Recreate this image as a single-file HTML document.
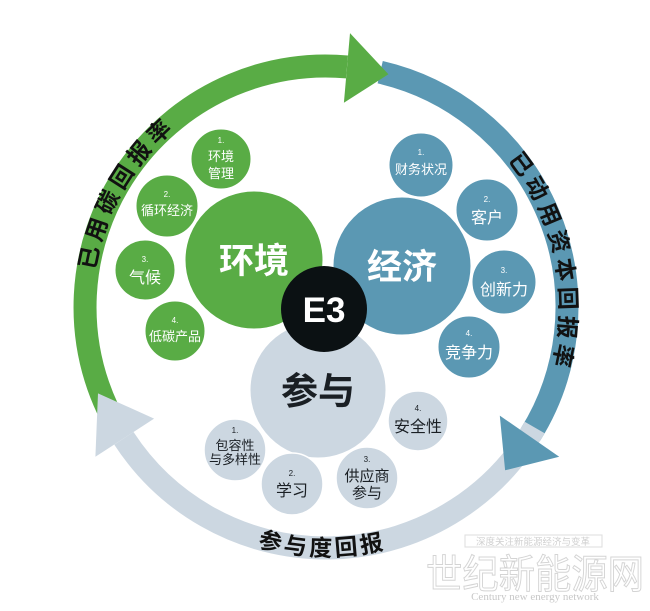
<!DOCTYPE html>
<html><head><meta charset="utf-8"><style>
html,body{margin:0;padding:0;background:#fff;width:650px;height:611px;overflow:hidden}
svg{display:block;font-family:"Liberation Sans","Noto Sans CJK SC",sans-serif}
</style></head><body>
<svg width="650" height="611" viewBox="0 0 650 611" xmlns="http://www.w3.org/2000/svg">
<defs>
<path id="pg" d="M94.9,270.4 A234,234 0 0 1 227.1,94.9"/>
<path id="pb" d="M507.8,159.7 A234,234 0 0 1 545.9,387.0"/>
<path id="pc" d="M257.4,546.4 A249,249 0 0 0 411.2,541.0"/>
</defs>
<path d="M380.2,72.2 A241,241 0 0 1 530.4,434.7" fill="none" stroke="#5b98b3" stroke-width="23"/>
<path d="M107.6,408.8 A241,241 0 0 1 347.0,66.9" fill="none" stroke="#59ac45" stroke-width="23"/>
<polygon points="343.9,102.8 350.0,33.1 388.4,74.2" fill="#59ac45"/>
<path d="M534.7,427.5 A241,241 0 0 1 123.9,438.3" fill="none" stroke="#ccd7e1" stroke-width="23"/>
<polygon points="154.1,418.6 95.4,456.8 98.0,393.4" fill="#ccd7e1"/>
<polygon points="499.8,415.6 559.2,456.7 505.1,470.3" fill="#5b98b3"/>

<g font-weight="bold" font-size="23" fill="#111">
<text><textPath href="#pg" textLength="164" lengthAdjust="spacing">已用碳回报率</textPath></text>
<text><textPath href="#pb" textLength="218" lengthAdjust="spacing">已动用资本回报率</textPath></text>
<text><textPath href="#pc" textLength="128" lengthAdjust="spacing">参与度回报</textPath></text>
</g>

<g fill="#59ac45" stroke="#fff" stroke-width="1">
<circle cx="221" cy="159" r="30"/><circle cx="167" cy="206" r="31"/>
<circle cx="145" cy="270" r="30"/><circle cx="175" cy="331" r="30"/>
</g>
<g fill="#5b98b3" stroke="#fff" stroke-width="1">
<circle cx="421" cy="165" r="32"/><circle cx="487" cy="210" r="31"/>
<circle cx="504" cy="282" r="32"/><circle cx="469" cy="347" r="31"/>
</g>
<circle cx="254" cy="260" r="69" fill="#59ac45" stroke="#fff"/>
<circle cx="402" cy="266" r="69" fill="#5b98b3" stroke="#fff"/>
<circle cx="318" cy="390" r="68" fill="#ccd7e1" stroke="#fff"/>
<g fill="#ccd7e1" stroke="#fff" stroke-width="1.5">
<circle cx="418" cy="421" r="30"/><circle cx="235" cy="450" r="31"/>
<circle cx="292" cy="484" r="31"/><circle cx="367" cy="478" r="31"/>
</g>
<circle cx="324" cy="309" r="43" fill="#0b1113"/>

<g text-anchor="middle">
<text x="254" y="273" font-size="35" font-weight="bold" fill="#fff">环境</text>
<text x="402" y="279" font-size="35" font-weight="bold" fill="#fff">经济</text>
<text x="318" y="404" font-size="37" font-weight="bold" fill="#1a1f24">参与</text>
<text x="324" y="322" font-size="35" font-weight="bold" fill="#fff">E3</text>

<g fill="#fff">
<text x="221" y="143" font-size="8">1.</text>
<text x="221" y="161" font-size="13">环境</text>
<text x="221" y="178" font-size="13">管理</text>
<text x="167" y="197" font-size="8">2.</text>
<text x="167" y="215" font-size="13">循环经济</text>
<text x="145" y="262" font-size="8">3.</text>
<text x="145" y="283" font-size="16">气候</text>
<text x="175" y="323" font-size="8">4.</text>
<text x="175" y="341" font-size="13">低碳产品</text>

<text x="421" y="155" font-size="8">1.</text>
<text x="421" y="174" font-size="13">财务状况</text>
<text x="487" y="202" font-size="8">2.</text>
<text x="487" y="223" font-size="16">客户</text>
<text x="504" y="273" font-size="8">3.</text>
<text x="504" y="295" font-size="16">创新力</text>
<text x="469" y="336" font-size="8">4.</text>
<text x="469" y="358" font-size="16">竞争力</text>
</g>
<g fill="#1a1f24">
<text x="418" y="411" font-size="8">4.</text>
<text x="418" y="432" font-size="16">安全性</text>
<text x="235" y="433" font-size="8">1.</text>
<text x="235" y="450" font-size="13">包容性</text>
<text x="235" y="464" font-size="13">与多样性</text>
<text x="292" y="476" font-size="8">2.</text>
<text x="292" y="496" font-size="16">学习</text>
<text x="367" y="462" font-size="8">3.</text>
<text x="367" y="481" font-size="15">供应商</text>
<text x="367" y="498" font-size="15">参与</text>
</g>
</g>

<rect x="465" y="535" width="137" height="12" fill="none" stroke="#ddd" stroke-width="1"/>
<text x="533" y="545" text-anchor="middle" font-size="9.5" fill="#d0d0d0">深度关注新能源经济与变革</text>
<text x="535" y="588" text-anchor="middle" font-size="40" fill="#fff" stroke="#d4d4d4" stroke-width="1" textLength="218" lengthAdjust="spacingAndGlyphs">世纪新能源网</text>
<text x="535" y="600" text-anchor="middle" font-size="11" fill="#c8c8c8" font-family="Liberation Serif,serif">Century new energy network</text>
</svg>
</body></html>
